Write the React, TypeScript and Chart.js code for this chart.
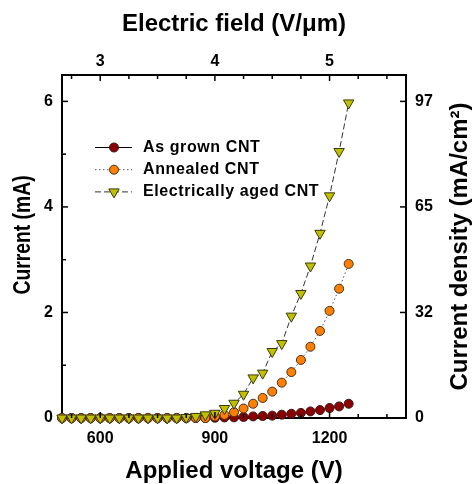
import React, { useEffect, useRef } from 'react';
import { Chart, registerables } from 'chart.js';
import { drawPoint } from 'chart.js/helpers';

Chart.register(...registerables);

// ---------- data ----------
const voltages = [500, 525, 550, 575, 600, 625, 650, 675, 700, 725, 750, 775, 800, 825, 850, 875, 900, 925, 950, 975, 1000, 1025, 1050, 1075, 1100, 1125, 1150, 1175, 1200, 1225, 1250];
const asGrown = [0, 0, 0, 0, 0, 0, 0, 0, 0, 0, 0, 0, 0, 0, 0, 0, 0.005, 0.01, 0.012, 0.02, 0.03, 0.038, 0.045, 0.063, 0.08, 0.097, 0.125, 0.15, 0.19, 0.22, 0.27];
const annealed = [0, 0, 0, 0, 0, 0, 0, 0, 0, 0, 0, 0, 0, 0, 0, 0, 0.03, 0.06, 0.11, 0.18, 0.27, 0.38, 0.5, 0.67, 0.87, 1.1, 1.35, 1.65, 2.03, 2.45, 2.92];
const aged = [0, 0, 0, 0, 0, 0, 0, 0, 0, 0, 0, 0, 0, 0.01, 0.03, 0.06, 0.09, 0.18, 0.28, 0.45, 0.76, 0.85, 1.26, 1.41, 1.93, 2.36, 2.88, 3.5, 4.21, 5.05, 5.97];

const seriesNames = ['As grown CNT', 'Annealed CNT', 'Electrically aged CNT'];

const voltageTicks = [600, 900, 1200];
const fieldTicks = [3, 4, 5];
const currentTicks = [0, 2, 4, 6];
const densityLabels = ['0', '32', '65', '97'];

const V_MIN = 500;
const V_MAX = 1400;
const I_MIN = 0;
const I_MAX = 6.5;
const V_MINOR = 75;
const F_MINOR = 0.25;
const I_MINOR = 1;
const fieldOf = (v: number) => (v + 300) / 300;

const FONT = "'Liberation Sans', Arial, Helvetica, sans-serif";

// ---------- plugins ----------
function minorValues(majors: number[], step: number, min: number, max: number) {
  const out: number[] = [];
  for (let v = majors[0]; v >= min - 1e-9; v -= step) out.push(+v.toFixed(6));
  for (let v = majors[0] + step; v <= max + 1e-9; v += step) out.push(+v.toFixed(6));
  return out;
}

const innerTicks = {
  id: 'innerTicks',
  afterDraw(chart: any) {
    const { ctx, chartArea: a, scales } = chart;
    ctx.save();
    ctx.strokeStyle = '#000';
    ctx.lineWidth = 1.5;
    const MAJ = 6;
    const MIN = 4;
    const line = (x0: number, y0: number, x1: number, y1: number) => {
      ctx.beginPath();
      ctx.moveTo(x0, y0);
      ctx.lineTo(x1, y1);
      ctx.stroke();
    };
    for (const v of minorValues(voltageTicks, V_MINOR, V_MIN, V_MAX)) {
      const px = scales.x.getPixelForValue(v);
      if (px <= a.left + 1 || px >= a.right - 1) continue;
      const len = voltageTicks.includes(v) ? MAJ : MIN;
      line(px, a.bottom, px, a.bottom - len);
    }
    for (const f of minorValues(fieldTicks, F_MINOR, fieldOf(V_MIN), fieldOf(V_MAX))) {
      const px = scales.x2.getPixelForValue(f);
      if (px <= a.left + 1 || px >= a.right - 1) continue;
      const len = fieldTicks.includes(f) ? MAJ : MIN;
      line(px, a.top, px, a.top + len);
    }
    for (const c of minorValues(currentTicks, I_MINOR, I_MIN, I_MAX)) {
      const py = scales.y.getPixelForValue(c);
      if (py >= a.bottom - 1 || py <= a.top + 1) continue;
      const len = currentTicks.includes(c) ? MAJ : MIN;
      line(a.left, py, a.left + len, py);
    }
    for (const c of currentTicks) {
      const py = scales.y2.getPixelForValue(c);
      if (py >= a.bottom - 1 || py <= a.top + 1) continue;
      line(a.right, py, a.right - MAJ, py);
    }
    ctx.restore();
  },
};

const insetLegend = {
  id: 'insetLegend',
  afterDatasetsDraw(chart: any) {
    const { ctx, chartArea: a } = chart;
    chart.data.datasets.forEach((ds: any, i: number) => {
      const y = a.top + 72.5 + i * 22.2;
      const x0 = a.left + 33;
      const x1 = a.left + 70;
      const xm = a.left + 52;
      ctx.save();
      ctx.strokeStyle = ds.borderColor;
      ctx.lineWidth = ds.borderWidth;
      ctx.setLineDash(ds.borderDash || []);
      ctx.beginPath();
      ctx.moveTo(x0, y);
      ctx.lineTo(x1, y);
      ctx.stroke();
      ctx.setLineDash([]);
      ctx.fillStyle = ds.pointBackgroundColor;
      ctx.strokeStyle = ds.pointBorderColor;
      ctx.lineWidth = ds.pointBorderWidth;
      drawPoint(ctx, { pointStyle: ds.pointStyle, rotation: ds.pointRotation || 0, radius: ds.pointRadius, borderWidth: ds.pointBorderWidth }, xm, y);
      ctx.fillStyle = '#000';
      ctx.font = `bold 16px ${FONT}`;
      (ctx as any).letterSpacing = '0.6px';
      ctx.textAlign = 'left';
      ctx.textBaseline = 'middle';
      ctx.fillText(ds.label, a.left + 81, y);
      ctx.restore();
    });
  },
};

const sideTitles = {
  id: 'sideTitles',
  afterDraw(chart: any) {
    const { ctx, chartArea: a } = chart;
    ctx.save();
    ctx.fillStyle = '#000';
    ctx.textAlign = 'center';
    ctx.textBaseline = 'middle';
    // left
    ctx.save();
    ctx.translate(24, 235);
    ctx.rotate(-Math.PI / 2);
    ctx.scale(0.84, 1);
    ctx.font = `bold 23px ${FONT}`;
    ctx.fillText('Current (mA)', 0, 0);
    ctx.restore();
    // right
    ctx.save();
    ctx.translate(460, (a.top + a.bottom) / 2);
    ctx.rotate(-Math.PI / 2);
    ctx.font = `bold 24px ${FONT}`;
    ctx.fillText('Current density (mA/cm\u00B2)', 0, 0);
    ctx.restore();
    ctx.restore();
  },
};

const tickFont = { family: FONT, size: 16, weight: 'bold' as const };
const titleFont = { family: FONT, size: 24, weight: 'bold' as const };

export default function App() {
  const ref = useRef<HTMLCanvasElement>(null);

  useEffect(() => {
    const pts = (arr: number[]) => voltages.map((v, i) => ({ x: v, y: arr[i] }));
    const chart = new Chart(ref.current as HTMLCanvasElement, {
      type: 'line',
      data: {
        datasets: [
          {
            label: seriesNames[0],
            data: pts(asGrown),
            borderColor: '#000',
            borderWidth: 1,
            pointStyle: 'circle',
            pointRadius: 4.5,
            pointBorderWidth: 1,
            pointBackgroundColor: '#8B0000',
            pointBorderColor: '#3a1a1a',
            order: 3,
            clip: false,
            xAxisID: 'x',
            yAxisID: 'y',
          },
          {
            label: seriesNames[1],
            data: pts(annealed),
            borderColor: '#555',
            borderWidth: 1,
            borderDash: [1.5, 2.5],
            pointStyle: 'circle',
            pointRadius: 4.5,
            pointBorderWidth: 1,
            pointBackgroundColor: '#FF8000',
            pointBorderColor: '#4a3020',
            order: 2,
            clip: false,
            xAxisID: 'x',
            yAxisID: 'y',
          },
          {
            label: seriesNames[2],
            data: pts(aged),
            borderColor: '#333',
            borderWidth: 1,
            borderDash: [6, 3],
            pointStyle: 'triangle',
            pointRotation: 180,
            pointRadius: 6,
            pointBorderWidth: 1,
            pointBackgroundColor: '#C0C000',
            pointBorderColor: '#3a3a10',
            order: 1,
            clip: false,
            xAxisID: 'x',
            yAxisID: 'y',
          },
        ] as any,
      },
      options: {
        responsive: false,
        animation: false,
        events: [],
        layout: { padding: 0 },
        plugins: { legend: { display: false }, tooltip: { enabled: false } },
        scales: {
          x: {
            type: 'linear',
            position: 'bottom',
            min: V_MIN,
            max: V_MAX,
            afterBuildTicks: (s: any) => { s.ticks = voltageTicks.map((v) => ({ value: v })); },
            afterFit: (s: any) => { s.height = 66; },
            grid: { display: false, drawTicks: false },
            border: { display: true, color: '#000', width: 2 },
            ticks: { font: tickFont, color: '#000', padding: 11, maxRotation: 0, autoSkip: false, callback: (v: any) => String(v) },
            title: { display: true, text: 'Applied voltage (V)', font: titleFont, color: '#000', padding: { top: 0, bottom: -2 } },
          },
          x2: {
            type: 'linear',
            position: 'top',
            min: fieldOf(V_MIN),
            max: fieldOf(V_MAX),
            afterBuildTicks: (s: any) => { s.ticks = fieldTicks.map((v) => ({ value: v })); },
            afterFit: (s: any) => { s.height = 75; },
            grid: { display: false, drawTicks: false },
            border: { display: true, color: '#000', width: 2 },
            ticks: { font: tickFont, color: '#000', padding: 4, maxRotation: 0, autoSkip: false, callback: (v: any) => String(v) },
            title: { display: true, text: 'Electric field (V/\u03BCm)', font: titleFont, color: '#000', padding: { top: 10, bottom: 0 } },
          },
          y: {
            type: 'linear',
            position: 'left',
            min: I_MIN,
            max: I_MAX,
            afterBuildTicks: (s: any) => { s.ticks = currentTicks.map((v) => ({ value: v })); },
            afterFit: (s: any) => { s.width = 62; },
            grid: { display: false, drawTicks: false },
            border: { display: true, color: '#000', width: 2 },
            ticks: { font: tickFont, color: '#000', padding: 9, autoSkip: false, callback: (v: any) => String(v) },
            title: { display: false },
          },
          y2: {
            type: 'linear',
            position: 'right',
            min: I_MIN,
            max: I_MAX,
            afterBuildTicks: (s: any) => { s.ticks = currentTicks.map((v) => ({ value: v })); },
            afterFit: (s: any) => { s.width = 70; },
            grid: { display: false, drawTicks: false },
            border: { display: true, color: '#000', width: 2 },
            ticks: {
              font: tickFont,
              color: '#000',
              padding: 9,
              autoSkip: false,
              callback: (v: any) => {
                const idx = currentTicks.indexOf(Number(v));
                return idx >= 0 ? densityLabels[idx] : '';
              },
            },
          },
        },
      } as any,
      plugins: [innerTicks, insetLegend, sideTitles],
    });
    return () => chart.destroy();
  }, []);

  return (
    <div style={{ position: 'fixed', left: 0, top: 0, width: 476, height: 484, background: '#fff' }}>
      <canvas ref={ref} width={476} height={484} style={{ display: 'block', width: 476, height: 484 }} />
    </div>
  );
}
